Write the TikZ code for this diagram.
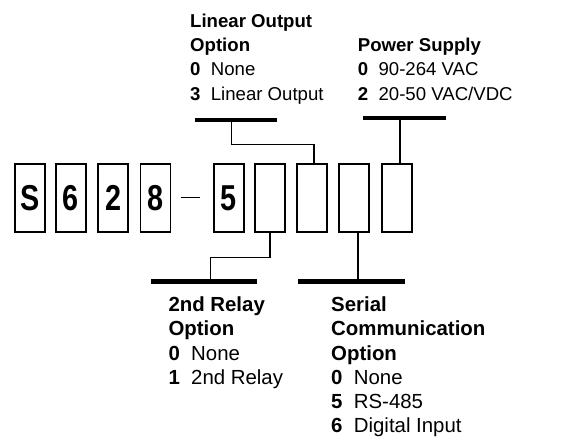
\documentclass[tikz,border=0pt]{standalone}
\usepackage{fontspec}
\setmainfont{Liberation Sans}
\begin{document}
\begin{tikzpicture}[x=1pt,y=-1pt,
  digitbox/.style={draw, line width=1.8pt, minimum width=30pt, minimum height=68pt, inner sep=0pt,
    font=\fontsize{36}{36}\selectfont\bfseries},
  barnode/.style={fill=black, inner sep=0pt, minimum height=4.2pt},
  conn/.style={line width=1.5pt},
  toptext/.style={anchor=base west, inner sep=0pt, font=\fontsize{18.6}{22}\selectfont},
  bottext/.style={anchor=base west, inner sep=0pt, font=\fontsize{20.4}{24}\selectfont}]
\useasboundingbox (0,0) rectangle (577,436);
\newcommand{\dg}[1]{\scalebox{0.8}[1]{#1}}
\newcommand{\opt}[2]{\textbf{#1}\hspace{0.556em}#2}
% code boxes
\node[digitbox] (bS) at (30,198) {\dg{S}};
\node[digitbox] (b6d) at (71,198) {\dg{6}};
\node[digitbox] (b2d) at (113.3,198) {\dg{2}};
\node[digitbox] (b8d) at (155.5,198) {\dg{8}};
\node[inner sep=0pt] (dash) at (190.5,197.7) {\rule{19.6pt}{1.5pt}};
\node[digitbox] (b5d) at (228.7,198) {\dg{5}};
\node[digitbox] (b6) at (270,198) {};
\node[digitbox] (b7) at (312.2,198) {};
\node[digitbox] (b8) at (354.3,198) {};
\node[digitbox] (b9) at (397.3,198) {};
% bars
\node[barnode, minimum width=82.6pt] (lbar) at (236,120.3) {};
\node[barnode, minimum width=82.4pt] (pbar) at (404.5,118.3) {};
\node[barnode, minimum width=106.3pt] (rbar) at (204.1,281.5) {};
\node[barnode, minimum width=106.4pt] (sbar) at (351.5,281.5) {};
% connectors
\coordinate (lk) at (231.3,144.7);
\coordinate (lv) at (314,144.7);
\draw[conn] (lk |- lbar.center) -- (lk) -- (lv) -- (lv |- b7.north);
\coordinate (pk) at (399.8,140);
\draw[conn] (pk |- pbar.center) -- (pk |- b9.north);
\coordinate (rk) at (270,257.3);
\coordinate (rk2) at (210.7,257.3);
\draw[conn] (rk |- b6.south) -- (rk) -- (rk2) -- (rk2 |- rbar.center);
\coordinate (sk) at (358,260);
\draw[conn] (sk |- b8.south) -- (sk |- sbar.center);
% top texts
\node[toptext] (lo1) at (190,27.5) {\textbf{Linear Output}};
\node[toptext] (lo2) at (190,51.5) {\textbf{Option}};
\node[toptext] (lo3) at (190,75.5) {\opt{0}{None}};
\node[toptext] (lo4) at (190,100) {\opt{3}{Linear Output}};
\node[toptext] (ps1) at (357.7,51.5) {\textbf{Power Supply}};
\node[toptext] (ps2) at (357.7,75.5) {\opt{0}{90-264 VAC}};
\node[toptext] (ps3) at (357.7,100) {\opt{2}{20-50 VAC/VDC}};
% bottom texts
\node[bottext] (r1) at (168.3,311.5) {\textbf{2nd Relay}};
\node[bottext] (r2) at (168.3,335.7) {\textbf{Option}};
\node[bottext] (r3) at (168.3,360) {\opt{0}{None}};
\node[bottext] (r4) at (168.3,384.5) {\opt{1}{2nd Relay}};
\node[bottext] (s1) at (331,311.5) {\textbf{Serial}};
\node[bottext] (s2) at (331,335.7) {\textbf{Communication}};
\node[bottext] (s3) at (331,360) {\textbf{Option}};
\node[bottext] (s4) at (331,384.5) {\opt{0}{None}};
\node[bottext] (s5) at (331,408.5) {\opt{5}{RS-485}};
\node[bottext] (s6) at (331,432.5) {\opt{6}{Digital Input}};
\end{tikzpicture}
\end{document}
